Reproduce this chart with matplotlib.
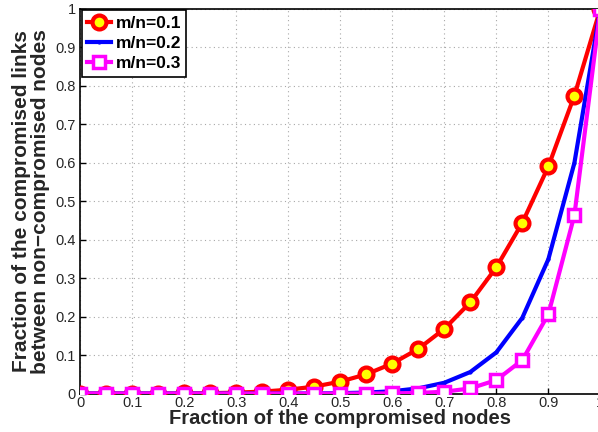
import matplotlib
matplotlib.use("Agg")
import matplotlib.pyplot as plt
import numpy as np

# fraction of compromised nodes
x = [0.0, 0.05, 0.1, 0.15, 0.2, 0.25, 0.3, 0.35, 0.4, 0.45, 0.5,
     0.55, 0.6, 0.65, 0.7, 0.75, 0.8, 0.85, 0.9, 0.95, 1.0]

# m/n = 0.1
y1 = [0.0, 0.0, 0.0, 0.0, 0.0003, 0.001, 0.0024, 0.005, 0.010, 0.018, 0.031,
      0.050, 0.078, 0.116, 0.168, 0.237, 0.328, 0.444, 0.590, 0.774, 1.0]
# m/n = 0.2
y2 = [0.0, 0.0, 0.0, 0.0, 0.0, 0.0, 0.0, 0.0, 0.0001, 0.0003, 0.001,
      0.0025, 0.006, 0.0135, 0.028, 0.056, 0.107, 0.197, 0.349, 0.599, 1.0]
# m/n = 0.3
y3 = [0.0, 0.0, 0.0, 0.0, 0.0, 0.0, 0.0, 0.0, 0.0, 0.0, 0.0,
      0.0001, 0.0005, 0.0016, 0.0047, 0.0134, 0.035, 0.087, 0.206, 0.463, 1.0]

labels = ["m/n=0.1", "m/n=0.2", "m/n=0.3"]
xticks = [0, 0.1, 0.2, 0.3, 0.4, 0.5, 0.6, 0.7, 0.8, 0.9, 1]
yticks = [0, 0.1, 0.2, 0.3, 0.4, 0.5, 0.6, 0.7, 0.8, 0.9, 1]

plt.rcParams["font.family"] = ["Liberation Sans", "DejaVu Sans"]
plt.rcParams["axes.unicode_minus"] = True

fig = plt.figure(figsize=(5.98, 4.32), dpi=100)
ax = fig.add_axes([0.134, 0.089, 0.870, 0.891])

ax.plot(x, y1, "-o", color="red", lw=3, ms=10, mfc="yellow", mec="red",
        mew=3, label=labels[0], zorder=3)
ax.plot(x, y2, "-", color="blue", lw=3, marker=".", ms=4, label=labels[1],
        zorder=4)
ax.plot(x, y3, "-s", color="magenta", lw=3, ms=8, mfc="white", mec="magenta",
        mew=2.5, label=labels[2], zorder=5)

ax.set_xlim(0, 1)
ax.set_ylim(0, 1)
ax.set_xticks(xticks)
ax.set_yticks(yticks)
ax.set_xticklabels([str(t) for t in xticks])
ax.set_yticklabels([str(t) for t in yticks])
ax.tick_params(direction="in", length=4, labelsize=10.5, colors="black",
               labelcolor="#262626", width=1)
ax.tick_params(axis="x", pad=2)
ax.tick_params(axis="y", pad=3)
ax.grid(True, linestyle=(0, (1, 3)), color="#a8a8a8", lw=0.8)
for s in ax.spines.values():
    s.set_linewidth(1.2)
for lab in ax.get_xticklabels() + ax.get_yticklabels():
    lab.set_clip_on(False)

ax.set_xlabel("Fraction of the compromised nodes", fontsize=14.5,
              fontweight="bold", color="#262626", labelpad=-1)
ax.set_ylabel("Fraction of the compromised links\nbetween non\u2212compromised nodes",
              fontsize=15, fontweight="bold", color="#262626", labelpad=4,
              linespacing=1.0)

leg = ax.legend(loc="upper left", prop={"weight": "bold", "size": 12.5},
                handlelength=1.4, handletextpad=0.25, borderpad=0.3,
                labelspacing=0.3, borderaxespad=0.1, fancybox=False,
                framealpha=1)
leg.get_frame().set_edgecolor("black")
leg.get_frame().set_linewidth(1.2)

fig.savefig("out.png", dpi=100)
